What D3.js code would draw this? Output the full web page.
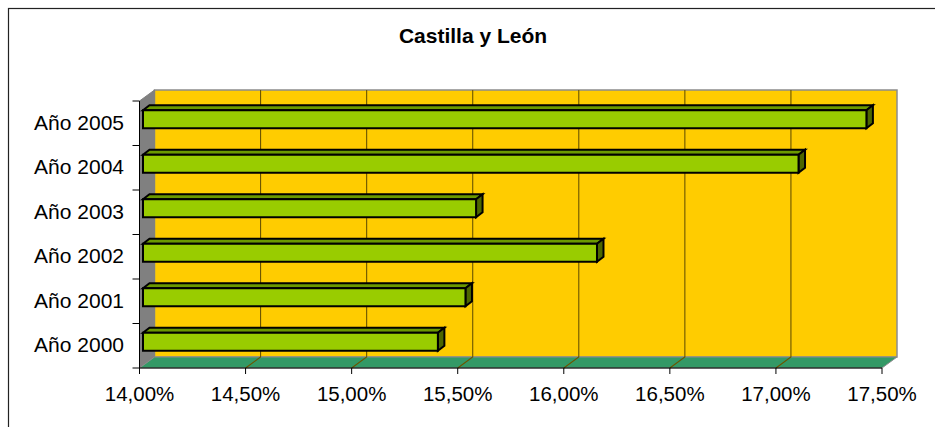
<!DOCTYPE html>
<html><head><meta charset="utf-8">
<script src="https://cdn.jsdelivr.net/npm/d3@7"></script>
<style>body{margin:0;background:#fff}svg{display:block}</style>
</head><body>
<svg id="c" width="935" height="427"></svg>
<script>
const title = "Castilla y León";
const categories = ["Año 2000","Año 2001","Año 2002","Año 2003","Año 2004","Año 2005"];
const values = [15.39, 15.52, 16.14, 15.57, 17.09, 17.41];
const xTicks = [14.0, 14.5, 15.0, 15.5, 16.0, 16.5, 17.0, 17.5];

const svg = d3.select("#c");
const font = "'Liberation Sans', Arial, sans-serif";

// frame
svg.append("rect").attr("x",8.5).attr("y",8.5).attr("width",1000).attr("height",1000)
  .attr("fill","#fff").attr("stroke","#222").attr("stroke-width",1.2);

// title
svg.append("text").attr("x",473).attr("y",43).attr("text-anchor","middle")
  .attr("font-family",font).attr("font-weight","bold").attr("font-size","21px")
  .attr("fill","#000").text(title);

// scales (front plane)
const x = d3.scaleLinear().domain([14, 17.5]).range([139.5, 882]);
const y = d3.scaleBand().domain(categories).range([368, 101]).padding(0);
const DX = 15, DY = -11;          // wall depth
const B1 = {dx:3.5, dy:-2.5};     // bar front plane
const B2 = {dx:10, dy:-7.5};      // bar back plane
const barH = 18;

const x0 = x(14), x1 = x(17.5), yTop = 101, yBot = 368;
const pts = a => a.map(p=>p.join(",")).join(" ");

// back wall
svg.append("polygon").attr("points", pts([[x0+DX,yTop+DY],[x1+DX,yTop+DY],[x1+DX,yBot+DY],[x0+DX,yBot+DY]]))
  .attr("fill","#FFCC00").attr("stroke","#8c8c8c").attr("stroke-width",1.5);
// left wall
svg.append("polygon").attr("points", pts([[x0,yTop],[x0+DX,yTop+DY],[x0+DX,yBot+DY],[x0,yBot]]))
  .attr("fill","#808080").attr("stroke","#808080").attr("stroke-width",1);
// floor
svg.append("polygon").attr("points", pts([[x0,yBot],[x0+DX,yBot+DY],[x1+DX,yBot+DY],[x1,yBot]]))
  .attr("fill","#339966").attr("stroke","#8c8c8c").attr("stroke-width",1);

// gridlines
const grid = svg.append("g").attr("stroke","#6b5500").attr("stroke-width",1.1).attr("fill","none");
xTicks.filter(t=>t>14 && t<17.5).forEach(t=>{
  const xx = x(t);
  grid.append("path").attr("d",`M${xx},${yBot}L${xx+DX},${yBot+DY}L${xx+DX},${yTop+DY}`);
});

// bars
const bars = svg.append("g");
categories.forEach((c,i)=>{
  const v = values[i];
  const yc = y(c) + y.bandwidth()/2 - 1.5;
  const ft = yc + B1.dy - barH/2, fb = yc + B1.dy + barH/2;
  const fl = x(14) + B1.dx, fr = x(v) + B1.dx;
  const bdx = B2.dx - B1.dx, bdy = B2.dy - B1.dy;
  const g = bars.append("g").attr("stroke","#000").attr("stroke-width",2).attr("stroke-linejoin","miter");
  g.append("polygon").attr("points", pts([[fl,ft],[fl+bdx,ft+bdy],[fr+bdx,ft+bdy],[fr,ft]])).attr("fill","#6B9900");
  g.append("polygon").attr("points", pts([[fr,ft],[fr+bdx,ft+bdy],[fr+bdx,fb+bdy],[fr,fb]])).attr("fill","#4D6600");
  g.append("rect").attr("x",fl).attr("y",ft).attr("width",fr-fl).attr("height",barH).attr("fill","#99CC00");
});

// y axis
const ya = svg.append("g").attr("stroke","#000").attr("stroke-width",1);
ya.append("line").attr("x1",x0).attr("x2",x0).attr("y1",yTop).attr("y2",yBot);
const yTickPos = categories.map(c=>y(c)).concat([y(categories[0])+y.bandwidth()]);
yTickPos.forEach(p=>ya.append("line").attr("x1",x0-7).attr("x2",x0).attr("y1",p).attr("y2",p));
svg.append("g").selectAll("text").data(categories).join("text")
  .attr("x",124).attr("y",c=>y(c)+y.bandwidth()/2).attr("dy","0.3em")
  .attr("text-anchor","end").attr("font-family",font).attr("font-size","21px").attr("fill","#000")
  .text(c=>c);

// x axis
const xa = svg.append("g").attr("stroke","#000").attr("stroke-width",1);
xa.append("line").attr("x1",x0).attr("x2",x1).attr("y1",yBot).attr("y2",yBot);
xTicks.forEach(t=>xa.append("line").attr("x1",x(t)).attr("x2",x(t)).attr("y1",yBot).attr("y2",yBot+6));
const fmt = t => d3.format(".2f")(t).replace(".",",") + "%";
svg.append("g").selectAll("text").data(xTicks).join("text")
  .attr("x",t=>x(t)).attr("y",401).attr("text-anchor","middle")
  .attr("font-family",font).attr("font-size","20.5px").attr("fill","#000")
  .text(fmt);
</script>
</body></html>
